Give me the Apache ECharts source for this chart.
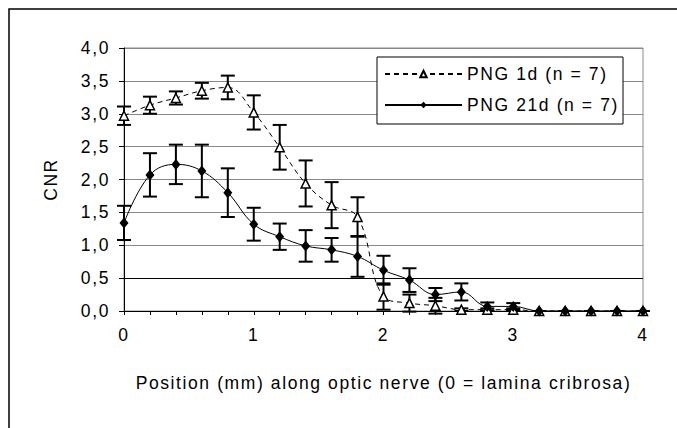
<!DOCTYPE html>
<html>
<head>
<meta charset="utf-8">
<script src="https://cdn.jsdelivr.net/npm/echarts/dist/echarts.min.js"></script>
<style>
  html, body {
    margin: 0;
    padding: 0;
    background: #fff;
  }
  #chart {
    width: 677px;
    height: 428px;
  }
  /* Excel-style wide text */
  #chart svg text {
    letter-spacing: 1.6px;
  }
</style>
</head>
<body>
<div id="chart"></div>
<script>
  // positions along the nerve (mm)
  var positions = [0, 0.2, 0.4, 0.6, 0.8, 1.0, 1.2, 1.4, 1.6, 1.8, 2.0, 2.2, 2.4, 2.6, 2.8, 3.0, 3.2, 3.4, 3.6, 3.8, 4.0];

  var png1d = [2.97, 3.13, 3.24, 3.35, 3.40, 3.02, 2.49, 1.94, 1.61, 1.43, 0.22, 0.12, 0.08, 0.02, 0.02, 0.02, 0, 0, 0, 0, 0];
  var png1dErr = [0.14, 0.13, 0.10, 0.12, 0.18, 0.26, 0.34, 0.35, 0.35, 0.30, 0.20, 0.13, 0.12, 0.02, 0.02, 0.02, 0, 0, 0, 0, 0];

  var png21d = [1.34, 2.07, 2.23, 2.13, 1.80, 1.32, 1.13, 0.99, 0.93, 0.83, 0.62, 0.47, 0.25, 0.29, 0.07, 0.07, 0, 0, 0, 0, 0];
  var png21dErr = [0.26, 0.33, 0.30, 0.40, 0.37, 0.25, 0.20, 0.24, 0.18, 0.31, 0.22, 0.18, 0.10, 0.13, 0.06, 0.05, 0, 0, 0, 0, 0];

  var yTicks = [0, 0.5, 1, 1.5, 2, 2.5, 3, 3.5, 4];

  var FONT = "'Liberation Sans', Arial, sans-serif";
  var FS = 17.5;

  function pairs(ys) {
    return positions.map(function (x, i) { return [x, ys[i]]; });
  }
  function bars(ys, errs) {
    return positions.map(function (x, i) { return [x, ys[i] - errs[i], ys[i] + errs[i]]; });
  }

  function renderErr(params, api) {
    var x = api.value(0);
    var lo = api.coord([x, Math.max(api.value(1), -0.08)]);
    var hi = api.coord([x, api.value(2)]);
    var w = 7;
    var st = { stroke: '#000', lineWidth: 2 };
    return {
      type: 'group',
      children: [
        { type: 'line', shape: { x1: lo[0], y1: lo[1], x2: hi[0], y2: hi[1] }, style: st },
        { type: 'line', shape: { x1: lo[0] - w, y1: lo[1], x2: lo[0] + w, y2: lo[1] }, style: st },
        { type: 'line', shape: { x1: hi[0] - w, y1: hi[1], x2: hi[0] + w, y2: hi[1] }, style: st }
      ]
    };
  }

  var chart = echarts.init(document.getElementById('chart'), null, { renderer: 'svg' });

  var option = {
    animation: false,
    backgroundColor: '#fff',
    textStyle: { fontFamily: FONT, color: '#000' },
    graphic: [
      // outer chart frame (only left/top visible)
      {
        type: 'rect',
        shape: { x: 9, y: 9, width: 720, height: 460 },
        style: { fill: 'none', stroke: '#000', lineWidth: 1.5 },
        z: 0,
        silent: true
      },
      // legend box
      {
        type: 'rect',
        shape: { x: 377, y: 57, width: 246, height: 67 },
        style: { fill: '#fff', stroke: '#000', lineWidth: 1 },
        z: 5,
        silent: true
      }
    ],
    grid: {
      left: 124,
      top: 48,
      right: 34,
      bottom: 117,
      show: true,
      borderColor: '#888',
      borderWidth: 1
    },
    legend: {
      data: ['PNG 1d (n = 7)', 'PNG 21d (n = 7)'],
      orient: 'vertical',
      left: 384,
      top: 65,
      padding: 0,
      itemWidth: 77,
      itemHeight: 8,
      itemGap: 13,
      z: 10,
      textStyle: { fontFamily: FONT, fontSize: FS, color: '#000' }
    },
    xAxis: {
      type: 'value',
      min: 0,
      max: 4,
      interval: 0.2,
      name: 'Position (mm) along optic nerve (0 = lamina cribrosa)',
      nameLocation: 'middle',
      nameGap: 63,
      nameTextStyle: { fontFamily: FONT, fontSize: FS, color: '#000' },
      axisLine: { onZero: false, lineStyle: { color: '#000', width: 1 } },
      axisTick: { show: true, length: 4, lineStyle: { color: '#000' } },
      axisLabel: {
        fontFamily: FONT,
        fontSize: FS,
        color: '#000',
        margin: 15,
        formatter: function (v) {
          return Math.abs(v - Math.round(v)) < 1e-6 ? String(Math.round(v)) : '';
        }
      },
      splitLine: { show: false }
    },
    yAxis: {
      type: 'value',
      min: 0,
      max: 4,
      interval: 0.5,
      name: 'CNR',
      nameLocation: 'middle',
      nameGap: 64,
      nameTextStyle: { fontFamily: FONT, fontSize: FS, color: '#000' },
      axisLine: { show: true, lineStyle: { color: '#000', width: 1 } },
      axisTick: { show: true, length: 5, lineStyle: { color: '#000' } },
      axisLabel: {
        fontFamily: FONT,
        fontSize: FS,
        color: '#000',
        margin: 14,
        formatter: function (v) { return v.toFixed(1).replace('.', ','); }
      },
      splitLine: {
        show: true,
        lineStyle: {
          width: 1,
          color: yTicks.map(function (t) { return t === 0.5 ? '#000' : '#888'; })
        }
      }
    },
    series: [
      {
        type: 'custom',
        name: 'err1d',
        renderItem: renderErr,
        data: bars(png1d, png1dErr),
        encode: { x: 0, y: [1, 2] },
        clip: false,
        z: 3,
        silent: true
      },
      {
        type: 'custom',
        name: 'err21d',
        renderItem: renderErr,
        data: bars(png21d, png21dErr),
        encode: { x: 0, y: [1, 2] },
        clip: false,
        z: 3,
        silent: true
      },
      {
        type: 'line',
        name: 'PNG 1d (n = 7)',
        data: pairs(png1d),
        smooth: 0.4,
        symbol: 'triangle',
        symbolSize: 9,
        showAllSymbol: true,
        lineStyle: { color: '#000', width: 1, type: [5, 4] },
        itemStyle: { color: '#fff', borderColor: '#000', borderWidth: 1.5 },
        z: 4
      },
      {
        type: 'line',
        name: 'PNG 21d (n = 7)',
        data: pairs(png21d),
        smooth: 0.4,
        symbol: 'diamond',
        symbolSize: [9, 11],
        showAllSymbol: true,
        lineStyle: { color: '#000', width: 1 },
        itemStyle: { color: '#000', borderColor: '#000', borderWidth: 0 },
        z: 4
      }
    ]
  };

  chart.setOption(option);
</script>
</body>
</html>
